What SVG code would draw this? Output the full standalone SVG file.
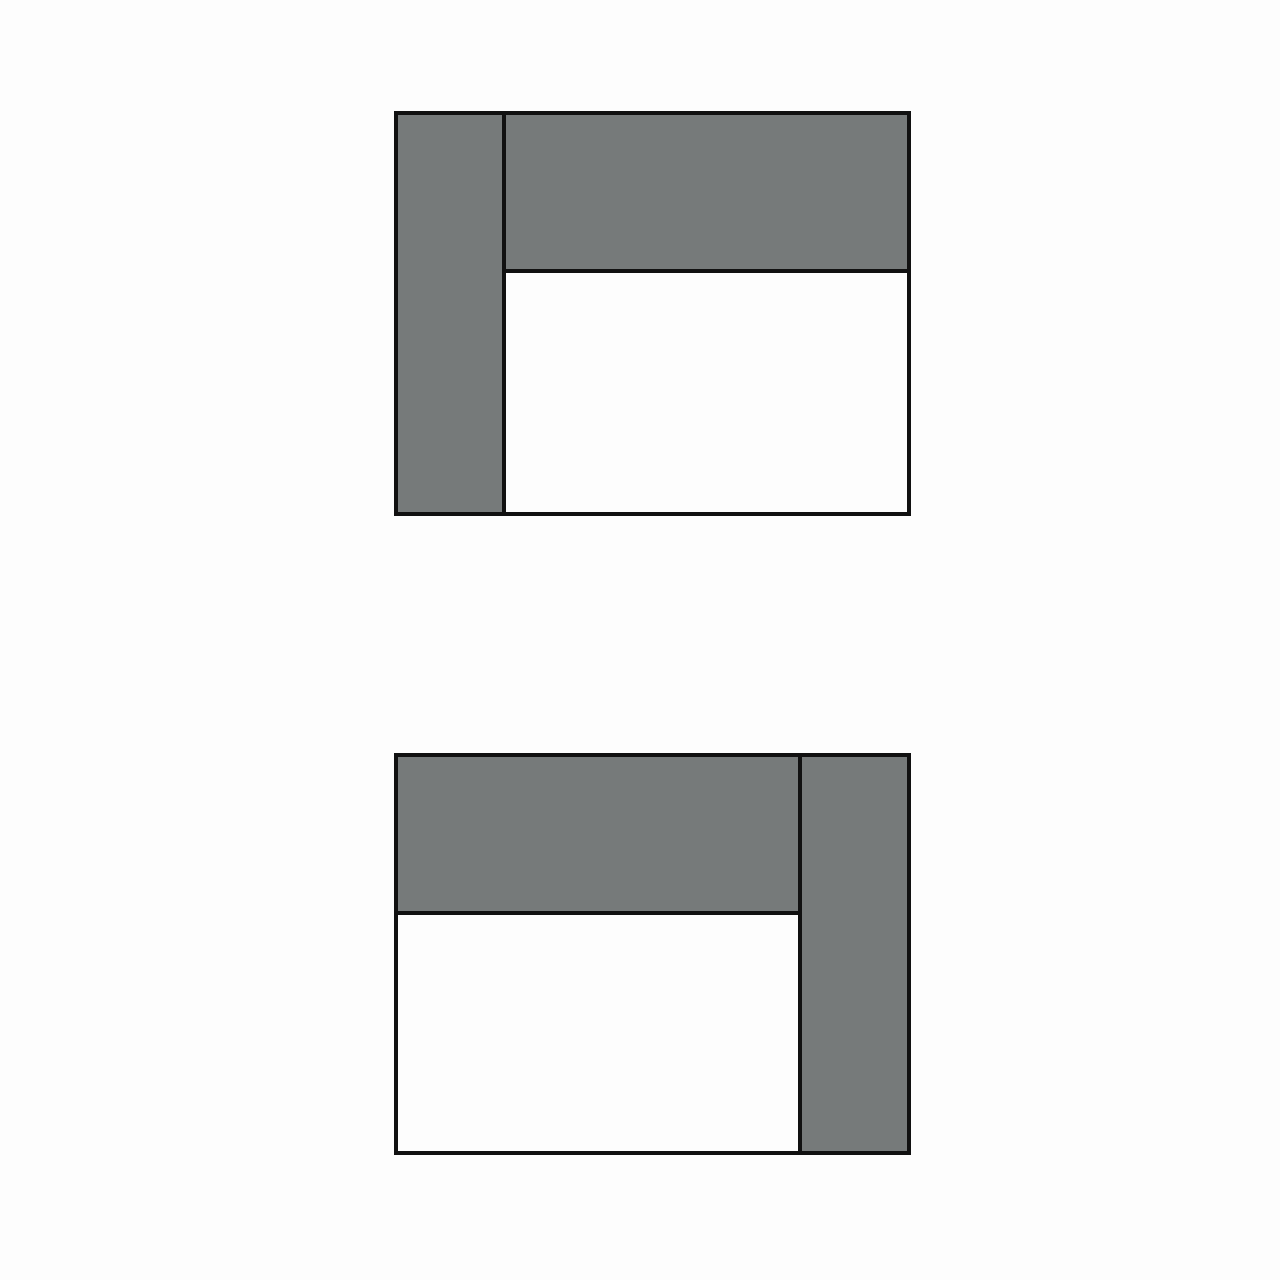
<svg xmlns="http://www.w3.org/2000/svg" width="1280" height="1280" viewBox="0 0 1280 1280">
<style>
.g{fill:#767a7a;stroke:#111;stroke-width:4}
.w{fill:#fdfdfd;stroke:#111;stroke-width:4}
</style>
<rect width="1280" height="1280" fill="#fdfdfd"/>
<g id="top">
<rect class="g" x="396" y="113" width="108" height="401"/>
<rect class="g" x="504" y="113" width="405" height="158"/>
<rect class="w" x="504" y="271" width="405" height="243"/>
</g>
<g id="bottom">
<rect class="g" x="396" y="755" width="404" height="158"/>
<rect class="w" x="396" y="913" width="404" height="240"/>
<rect class="g" x="800" y="755" width="109" height="398"/>
</g>
</svg>
